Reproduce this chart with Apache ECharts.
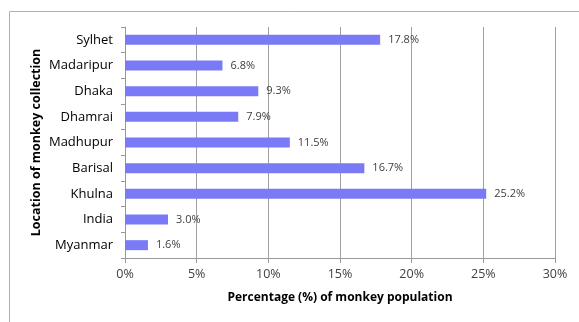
<!DOCTYPE html>
<html><head><meta charset="utf-8">
<script src="https://cdn.jsdelivr.net/npm/echarts@6/dist/echarts.min.js"></script>
<style>html,body{margin:0;padding:0;background:#fff}#c{width:579px;height:322px}</style>
</head><body><div id="c"></div>
<script>
var categories = ["Myanmar","India","Khulna","Barisal","Madhupur","Dhamrai","Dhaka","Madaripur","Sylhet"];
var values = [1.6, 3.0, 25.2, 16.7, 11.5, 7.9, 9.3, 6.8, 17.8];
var xTicks = [0, 5, 10, 15, 20, 25, 30];
var font = "'Open Sans', 'Liberation Sans', sans-serif";
var chart = echarts.init(document.getElementById('c'));
chart.setOption({
  animation: false,
  graphic: [{type:'rect', shape:{x:9.5,y:11.5,width:580,height:320}, style:{fill:'none',stroke:'#b0b0b0',lineWidth:1}}],
  grid: {left: 125, right: 24, top: 27, bottom: 64},
  xAxis: {
    type: 'value', min: 0, max: 30, interval: 5,
    axisLine: {show: true, lineStyle: {color: '#999'}},
    axisTick: {show: true, length: 5, lineStyle: {color: '#999'}},
    splitLine: {show: true, lineStyle: {color: '#a0a0a0'}},
    axisLabel: {formatter: '{value}%', color: '#404040', fontSize: 12.5, fontFamily: font, margin: 10},
    name: 'Percentage (%) of monkey population', nameLocation: 'middle', nameGap: 34,
    nameMoveOverlap: false,
    nameTextStyle: {fontWeight: 'bold', fontSize: 12, color: '#000', fontFamily: font}
  },
  yAxis: {
    type: 'category', data: categories,
    axisLine: {show: true, lineStyle: {color: '#999'}},
    axisTick: {show: true, length: 4, lineStyle: {color: '#999'}},
    axisLabel: {color: '#000', fontSize: 13, fontFamily: font, margin: 12},
    name: 'Location of monkey collection', nameLocation: 'middle', nameGap: 82,
    nameMoveOverlap: false,
    nameTextStyle: {fontWeight: 'bold', fontSize: 12.5, color: '#000', fontFamily: font}
  },
  series: [{
    type: 'bar', data: values, barWidth: 10,
    itemStyle: {color: '#7a7af6'},
    label: {show: true, position: 'right', distance: 8, formatter: function(p){return p.value.toFixed(1)+'%';},
      color: '#404040', fontSize: 11, fontFamily: font}
  }]
});
</script></body></html>
